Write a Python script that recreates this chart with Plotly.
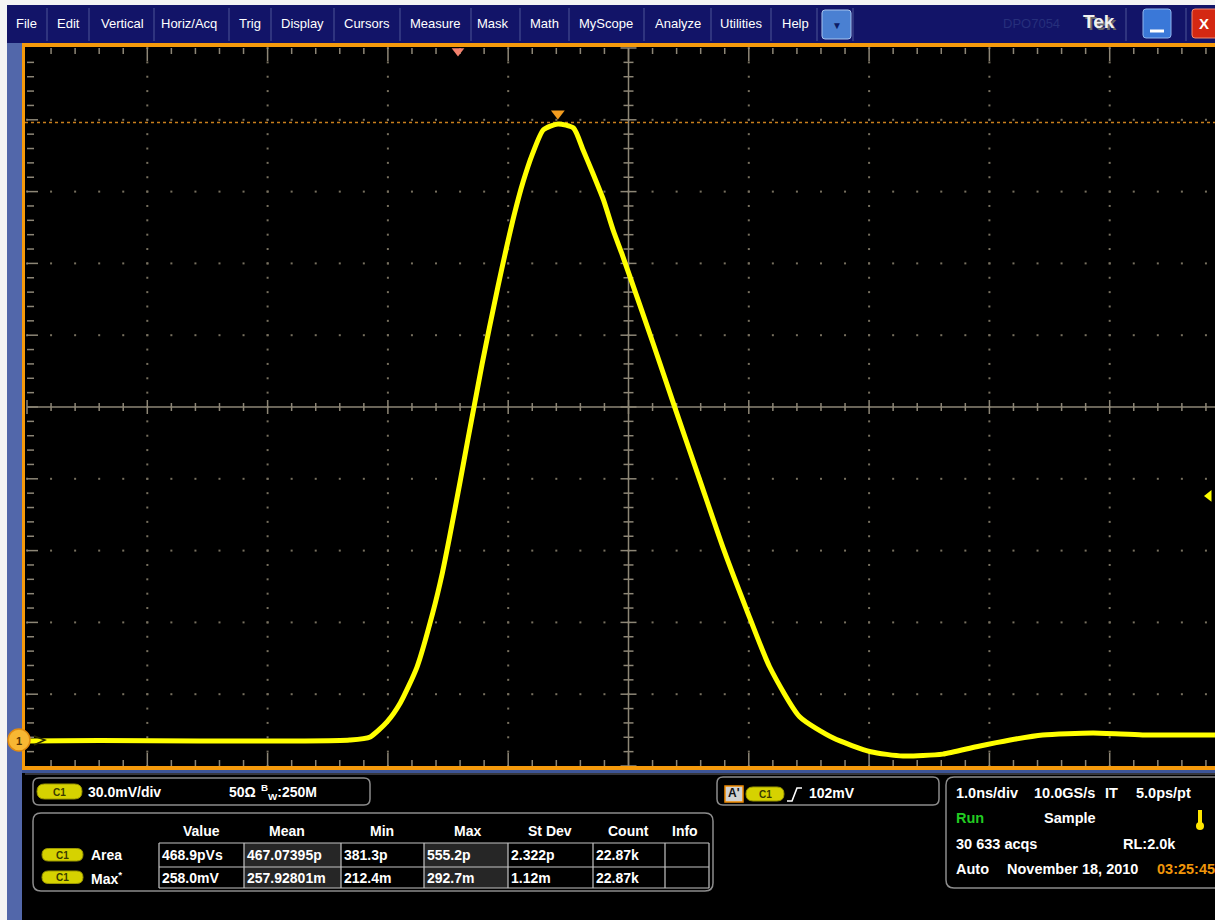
import plotly.graph_objects as go

W, H = 1215, 920
FONT = "Liberation Sans"

# ---------------- data ----------------
TIME_NS = [-3.58, -2.98, -2.15, -1.31, -0.90, -0.73, -0.59, -0.48, -0.34, -0.21,
           -0.13, -0.07, 0.02, 0.08, 0.14, 0.20, 0.26, 0.33, 0.40, 0.47,
           0.54, 0.62, 0.71, 0.83, 0.96, 1.04, 1.12, 1.21, 1.29, 1.36,
           1.43, 1.62, 1.80, 2.01, 2.21, 2.40, 2.59, 2.84, 3.12, 3.43,
           3.70, 4.03, 4.31, 4.59, 4.86, 5.28, 5.69, 6.30]
VOLT_MV = [-0.4, -0.2, -0.4, -0.4, 0.0, 1.3, 7.6, 15.5, 30.6, 53.1,
           69.8, 84.8, 108.6, 125.0, 141.0, 157.0, 172.0, 189.0, 205.0, 220.0,
           233.0, 245.0, 255.0, 257.4, 255.7, 246.5, 236.9, 225.6, 213.0, 203.5,
           193.5, 166.0, 139.3, 108.6, 79.4, 54.3, 30.6, 9.7, 0.8, -4.9,
           -6.7, -5.9, -2.8, 0.0, 2.1, 2.9, 2.1, 2.1]

MV_PER_DIV = 30.0
NS_PER_DIV = 1.0
TRIG_LEVEL_MV = 102.0
MEAS_MAX_MV = 258.0

MENU_ITEMS = ["File", "Edit", "Vertical", "Horiz/Acq", "Trig", "Display", "Cursors",
              "Measure", "Mask", "Math", "MyScope", "Analyze", "Utilities", "Help"]
MEAS_HEADERS = ["Value", "Mean", "Min", "Max", "St Dev", "Count", "Info"]
MEAS_ROW_LABELS = ["Area", "Max<sup>*</sup>"]
MEAS_AREA = ["468.9pVs", "467.07395p", "381.3p", "555.2p", "2.322p", "22.87k", ""]
MEAS_MAXV = ["258.0mV", "257.92801m", "212.4m", "292.7m", "1.12m", "22.87k", ""]

# ---------------- screen geometry (pixels) ----------------
X_TRIG, PX_NS = 458.0, 120.3
Y_GND, PX_MV = 740.0, 71.8 / 30.0
AX_L, AX_R, AX_T, AX_B = 25, 1215, 46, 768


def tx(xp):
    return (xp - X_TRIG) / PX_NS


def vy(yp):
    return (Y_GND - yp) / PX_MV


def px(x):
    return x / W


def py(y):
    return 1 - y / H


T_EDGE = tx(27)
V_EDGE = vy(766)
T_C = T_EDGE + 5 * NS_PER_DIV
V_C = V_EDGE + 5 * MV_PER_DIV

fig = go.Figure()

# ---------- graticule ----------
GRID_C = "#77705f"
TICK_C = "#8d8676"
dx, dy = [], []
for i in range(1, 10):
    if i == 5:
        continue
    for j in range(51):
        dx.append(T_EDGE + i * NS_PER_DIV)
        dy.append(V_EDGE + j * MV_PER_DIV / 5)
for j in range(1, 10):
    if j == 5:
        continue
    for i in range(51):
        dx.append(T_EDGE + i * NS_PER_DIV / 5)
        dy.append(V_EDGE + j * MV_PER_DIV)
fig.add_trace(go.Scatter(x=dx, y=dy, mode="markers", hoverinfo="skip",
                         marker=dict(size=2, symbol="square", color=GRID_C, line=dict(width=0))))

lx, ly = [], []


def seg(x0, y0, x1, y1):
    lx.extend([x0, x1, None])
    ly.extend([y0, y1, None])


# center cross
seg(T_EDGE, V_C, T_EDGE + 10, V_C)
seg(T_C, V_EDGE, T_C, V_EDGE + 10 * MV_PER_DIV)
V_TOP = V_EDGE + 10 * MV_PER_DIV
for i in range(51):
    t = T_EDGE + i * NS_PER_DIV / 5
    major = (i % 5 == 0)
    h = (7 if major else 4) / PX_MV
    seg(t, V_C - h, t, V_C + h)
    L = (13 if major else 6) / PX_MV
    if 0 < i < 50:
        seg(t, V_TOP, t, V_TOP - L)
        seg(t, V_EDGE, t, V_EDGE + L)
for j in range(51):
    v = V_EDGE + j * MV_PER_DIV / 5
    major = (j % 5 == 0)
    h = (8 if major else 5) / PX_NS
    seg(T_C - h, v, T_C + h, v)
    L = (11 if major else 7) / PX_NS
    if 0 < j < 50:
        seg(T_EDGE, v, T_EDGE + L, v)
fig.add_trace(go.Scatter(x=lx, y=ly, mode="lines", hoverinfo="skip",
                         line=dict(color=TICK_C, width=1.5)))

# measurement max level (dotted orange)
fig.add_trace(go.Scatter(x=[tx(AX_L), tx(AX_R)], y=[MEAS_MAX_MV, MEAS_MAX_MV], mode="lines",
                         hoverinfo="skip", line=dict(color="#c97f1c", width=1.5, dash="dot")))

# waveform
fig.add_trace(go.Scatter(x=TIME_NS, y=VOLT_MV, mode="lines", hoverinfo="skip",
                         line=dict(color="#ffff00", width=5, shape="spline", smoothing=0.6)))

# peak marker
imax = max(range(len(VOLT_MV)), key=lambda k: VOLT_MV[k])
fig.add_trace(go.Scatter(x=[TIME_NS[imax]], y=[MEAS_MAX_MV + 9 / PX_MV], mode="markers",
                         cliponaxis=False, hoverinfo="skip",
                         marker=dict(symbol="triangle-down", size=12, color="#f39c1f", line=dict(width=0))))
# trigger position marker
fig.add_trace(go.Scatter(x=[0.0], y=[vy(51)], mode="markers", cliponaxis=False, hoverinfo="skip",
                         marker=dict(symbol="triangle-down", size=11, color="#f3826e", line=dict(width=0))))
# trigger level marker
fig.add_trace(go.Scatter(x=[tx(1209)], y=[TRIG_LEVEL_MV], mode="markers", cliponaxis=False, hoverinfo="skip",
                         marker=dict(symbol="triangle-left", size=10, color="#ffff00", line=dict(width=0))))

shapes = []
annotations = []


def rect(x0, y0, x1, y1, fill, line=None, lw=0):
    shapes.append(dict(type="rect", xref="paper", yref="paper", x0=px(x0), x1=px(x1),
                       y0=py(y1), y1=py(y0), fillcolor=fill,
                       line=dict(width=lw, color=line if line else fill)))


def vline(x, y0, y1, color, lw=1):
    shapes.append(dict(type="line", xref="paper", yref="paper", x0=px(x), x1=px(x),
                       y0=py(y0), y1=py(y1), line=dict(color=color, width=lw)))


def hline(y, x0, x1, color, lw=1):
    shapes.append(dict(type="line", xref="paper", yref="paper", x0=px(x0), x1=px(x1),
                       y0=py(y), y1=py(y), line=dict(color=color, width=lw)))


def P(x, y):
    return f"{px(x):.6f},{py(y):.6f}"


def rrect(x0, y0, x1, y1, r, fill="rgba(0,0,0,0)", line="#8c8c8c", lw=1.5):
    path = (f"M {P(x0 + r, y0)} L {P(x1 - r, y0)} Q {P(x1, y0)} {P(x1, y0 + r)} "
            f"L {P(x1, y1 - r)} Q {P(x1, y1)} {P(x1 - r, y1)} L {P(x0 + r, y1)} "
            f"Q {P(x0, y1)} {P(x0, y1 - r)} L {P(x0, y0 + r)} Q {P(x0, y0)} {P(x0 + r, y0)} Z")
    shapes.append(dict(type="path", xref="paper", yref="paper", path=path, fillcolor=fill,
                       line=dict(color=line, width=lw)))


def text(x, y, s, size=14, color="white", anchor="left", bold=True, family=FONT):
    annotations.append(dict(xref="paper", yref="paper", x=px(x), y=py(y), text=(f"<b>{s}</b>" if bold else s),
                            showarrow=False, xanchor=anchor, yanchor="middle",
                            font=dict(family=family, size=size, color=color), borderpad=0))


def pill(x0, y0, x1, y1, label="C1"):
    rrect(x0, y0, x1, y1, (y1 - y0) / 2, fill="#d6d200", line="#9c9800", lw=1)
    text((x0 + x1) / 2, (y0 + y1) / 2 + 0.5, label, size=10, color="#3a3a00", anchor="center")


# ---------- window chrome ----------
rect(0, 0, W, 5, "#f4f4f4")
rect(0, 0, 7, H, "#f4f4f4")
rect(7, 5, W, 43, "#121468")
rect(7, 43, 22, H, "#5267aa")
# orange frame around display
rect(22, 43, W, 47, "#f59a0c")
rect(22, 43, 25, 770, "#f59a0c")
rect(22, 766, W, 770, "#f59a0c")
rect(22, 770, W, 773, "#3d5597")
hline(774, 25, W, "#6a6a78", 1)

# menu bar
MENU_X = [26, 68, 122, 189, 250, 302, 367, 435, 493, 544, 606, 678, 741, 795]
SEP_X = [47, 89, 154, 229, 271, 334, 400, 471, 520, 569, 644, 711, 771, 817, 853, 1126, 1186]
for s in SEP_X:
    vline(s, 8, 41, "#4d5496", 1)
for lab, xc in zip(MENU_ITEMS, MENU_X):
    text(xc, 23, lab, size=13, color="white", anchor="center", bold=False)
rrect(822, 10, 851, 39, 3, fill="#4a80d2", line="#a8c4ee", lw=1)
text(836.5, 25, "▼", size=10, color="#0c1c66", anchor="center", bold=False)
text(1031, 23, "DPO7054", size=13, color="#262f7c", anchor="center", bold=False)
text(1100.5, 23.5, "Tek", size=19, color="#6a6a6a", anchor="center")
text(1099, 22, "Tek", size=19, color="#f0f0f0", anchor="center")
rrect(1143, 9, 1171, 38, 3, fill="#3a78d8", line="#8fb6ee", lw=1)
hline(31, 1150, 1164, "white", 3)
rrect(1192, 9, 1222, 38, 3, fill="#d42812", line="#f08a70", lw=1)
text(1204, 24, "X", size=15, color="white", anchor="center")

# ground marker
shapes.append(dict(type="circle", xref="paper", yref="paper", x0=px(8), x1=px(30), y0=py(751), y1=py(729),
                   fillcolor="#f7b733", line=dict(color="#e08a10", width=1.5)))
text(19, 740.5, "1", size=11, color="#5a3500", anchor="center")
shapes.append(dict(type="path", xref="paper", yref="paper",
                   path=f"M {P(34, 736)} L {P(45, 740)} L {P(34, 745)}",
                   line=dict(color="#2a2a00", width=1.5)))

# ---------- bottom panels ----------
# box 1 : vertical settings
rrect(33, 778, 370, 805, 6)
pill(37, 784, 82, 799)
text(87, 791.5, "30.0mV/div")
text(228, 791.5, "50Ω")
text(260, 791.5, "<sup>B</sup><sub>W</sub>:250M")

# box 2 : measurements
rrect(33, 813, 713, 891, 8)
COL_X = [159, 244, 341, 424, 508, 593, 665, 709]
ROW_Y = [843, 867, 888]
HEAD_X = [202, 287, 382, 467, 550, 628, 685]
rect(COL_X[1], ROW_Y[0], COL_X[2], ROW_Y[2], "#262626")
rect(COL_X[3], ROW_Y[0], COL_X[4], ROW_Y[2], "#262626")
for cx in COL_X:
    vline(cx, ROW_Y[0], ROW_Y[2], "#c4c4c4", 1.2)
for ry in ROW_Y:
    hline(ry, COL_X[0], COL_X[-1], "#c4c4c4", 1.2)
for hname, hx in zip(MEAS_HEADERS, HEAD_X):
    text(hx, 831, hname, anchor="center")
for r, (lab, vals) in enumerate(zip(MEAS_ROW_LABELS, [MEAS_AREA, MEAS_MAXV])):
    yc = (ROW_Y[r] + ROW_Y[r + 1]) / 2
    pill(42, yc - 6.5, 83, yc + 6)
    text(90, yc, lab)
    for c, v in enumerate(vals):
        if v:
            text(COL_X[c] + 2, yc, v)

# box 3 : trigger
rrect(717, 777, 939, 805, 6)
rect(725, 786, 743, 802, "#d2d2d2", line="#f08a00", lw=1.5)
text(734, 793, "A'", size=12, color="#111111", anchor="center")
pill(746, 787, 784, 801)
shapes.append(dict(type="path", xref="paper", yref="paper",
                   path=f"M {P(787, 801)} L {P(792, 801)} L {P(797, 788)} L {P(802, 788)}",
                   line=dict(color="white", width=1.6)))
text(808, 793, "102mV")

# box 4 : horizontal / acquisition
rrect(946, 777, 1232, 888, 8)
text(955, 793, "1.0ns/div", size=14.5)
text(1033, 793, "10.0GS/s", size=14.5)
text(1104, 793, "IT", size=14.5)
text(1135, 793, "5.0ps/pt", size=14.5)
text(955, 818, "Run", color="#22cc22", size=14.5)
text(1043, 818, "Sample", size=14.5)
vline(1200, 810, 823, "#ffe600", 4)
shapes.append(dict(type="circle", xref="paper", yref="paper", x0=px(1196), x1=px(1204), y0=py(830), y1=py(822),
                   fillcolor="#ffe600", line=dict(width=0)))
text(955, 843.5, "30 633 acqs", size=14.5)
text(1122, 843.5, "RL:2.0k", size=14.5)
text(955, 869, "Auto", size=14.5)
text(1006, 869, "November 18, 2010", size=14.5)
text(1156, 869, "03:25:45", color="#f0960a", size=14.5)

fig.update_layout(
    width=W, height=H, margin=dict(l=0, r=0, t=0, b=0),
    paper_bgcolor="black", plot_bgcolor="black", showlegend=False,
    xaxis=dict(domain=[px(AX_L), 1.0], range=[tx(AX_L), tx(AX_R)], visible=False, fixedrange=True),
    yaxis=dict(domain=[py(AX_B), py(AX_T)], range=[vy(AX_B), vy(AX_T)], visible=False, fixedrange=True),
    shapes=shapes, annotations=annotations,
)

fig.write_html("out.html", config={"displayModeBar": False},
               post_script="document.body.style.margin='0';document.body.style.overflow='hidden';")
